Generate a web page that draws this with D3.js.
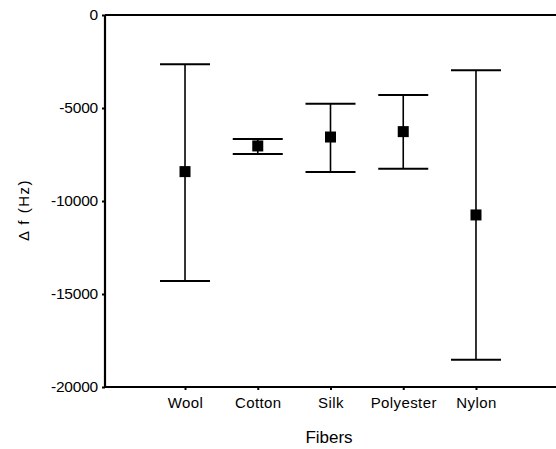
<!DOCTYPE html>
<html>
<head>
<meta charset="utf-8">
<script src="https://cdn.jsdelivr.net/npm/d3@7"></script>
<style>
  body { margin: 0; background: #fff; }
  text { font-family: Arial, "Liberation Sans", Helvetica, sans-serif; fill: #000; }
</style>
</head>
<body>
<div id="svg"></div>
<script>
var fibers = ["Wool", "Cotton", "Silk", "Polyester", "Nylon"];
var meanVals = [-8420, -7040, -6560, -6270, -10750];
var upperVals = [-2650, -6670, -4770, -4300, -2970];
var lowerVals = [-14300, -7470, -8440, -8260, -18530];
var yTicks = [0, -5000, -10000, -15000, -20000];

var margin = {top: 15, right: 0, bottom: 62, left: 105},
    width = 556 - margin.left - margin.right,
    height = 449 - margin.top - margin.bottom;

var svg = d3.select("#svg")
  .append("svg")
    .attr("width", width + margin.left + margin.right)
    .attr("height", height + margin.top + margin.bottom)
  .append("g")
    .attr("transform", "translate(" + margin.left + "," + margin.top + ")");

var data = fibers.map(function (f, i) {
  return {name: f, mean: meanVals[i], hi: upperVals[i], lo: lowerVals[i]};
});

// X axis
var x = d3.scalePoint()
  .domain(fibers)
  .range([0, width])
  .padding(1.1);

var y = d3.scaleLinear()
  .domain([-20000, 0])
  .range([height, 0]);

var xAxis = svg.append("g")
  .attr("transform", "translate(0," + height + ")")
  .call(d3.axisBottom(x).tickSize(3).tickPadding(8));
xAxis.select(".domain").attr("stroke-width", 2.2).attr("d", "M0,0H" + width);
xAxis.selectAll(".tick line").attr("stroke-width", 2);
xAxis.selectAll(".tick text")
  .style("font-size", "15px")
  .style("letter-spacing", "0.4px")
  .attr("dy", "0.75em")
  .attr("y", 10);

// Y axis (plain hyphen for the minus sign, as in the original)
var yAxis = svg.append("g")
  .call(d3.axisLeft(y).tickValues(yTicks).tickSize(3).tickPadding(4)
    .tickFormat(function (d) { return String(d); }));
yAxis.select(".domain").attr("stroke-width", 2.2).attr("d", "M0," + height + "V0");
yAxis.selectAll(".tick line").attr("stroke-width", 2);
yAxis.selectAll(".tick text").style("font-size", "15.5px").style("letter-spacing", "-0.2px");

// top frame line
svg.append("line")
  .attr("x1", 0).attr("x2", width)
  .attr("y1", y(0)).attr("y2", y(0))
  .attr("stroke", "#000").attr("stroke-width", 2);

// error bars
var bars = svg.append("g").selectAll("g")
  .data(data).enter().append("g");

bars.append("line")
  .attr("x1", function (d) { return x(d.name); })
  .attr("x2", function (d) { return x(d.name); })
  .attr("y1", function (d) { return y(d.hi); })
  .attr("y2", function (d) { return y(d.lo); })
  .attr("stroke", "#000").attr("stroke-width", 1.6);

bars.selectAll(".cap")
  .data(function (d) { return [{name: d.name, v: d.hi}, {name: d.name, v: d.lo}]; })
  .enter().append("line")
  .attr("class", "cap")
  .attr("x1", function (d) { return x(d.name) - 25; })
  .attr("x2", function (d) { return x(d.name) + 25; })
  .attr("y1", function (d) { return y(d.v); })
  .attr("y2", function (d) { return y(d.v); })
  .attr("stroke", "#000").attr("stroke-width", 2);

bars.append("rect")
  .attr("x", function (d) { return x(d.name) - 5.5; })
  .attr("y", function (d) { return y(d.mean) - 5.5; })
  .attr("width", 11)
  .attr("height", 11)
  .attr("fill", "#000");

// axis titles
svg.append("text")
  .attr("x", 224)
  .attr("y", height + 56)
  .attr("text-anchor", "middle")
  .style("font-size", "17px")
  .text("Fibers");

svg.append("text")
  .attr("transform", "translate(" + (-76) + "," + (195) + ") rotate(-90)")
  .attr("text-anchor", "middle")
  .style("font-size", "15px")
  .style("letter-spacing", "1.5px")
  .text("\u0394 f (Hz)");
</script>
</body>
</html>
